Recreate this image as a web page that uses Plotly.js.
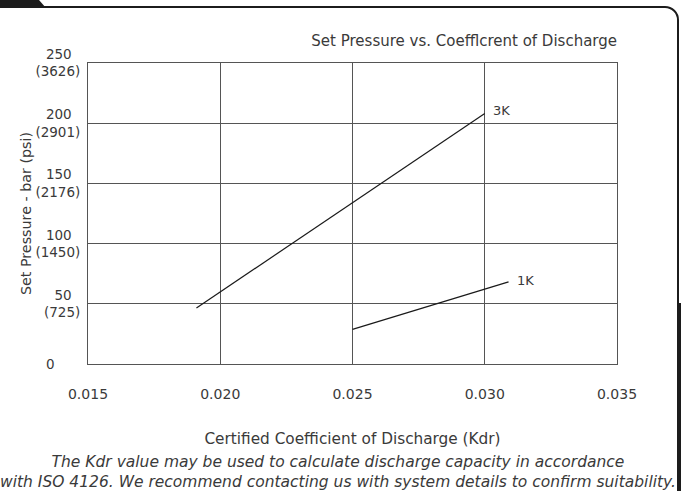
<!DOCTYPE html>
<html>
<head>
<meta charset="utf-8">
<script src="https://cdn.plot.ly/plotly-3.0.1.min.js"></script>
<style>
  html, body { margin: 0; padding: 0; background: #ffffff; overflow: hidden; }
  #frame { position: absolute; left: -20px; top: 6px; width: 699px; height: 520px; box-sizing: border-box;
           border: 2px solid #1c1c1c; border-radius: 14px; }
  #corner { position: absolute; left: 0; top: 0; width: 46px; height: 8px; background: #1c1c1c;
            clip-path: polygon(0 0, 39px 0, 46px 8px, 0 8px); }
  #sidebar { position: absolute; left: 677px; top: 303px; width: 4px; height: 188px; background: #1c1c1c; }
  #chart { position: absolute; left: 0; top: 0; width: 681px; height: 491px; }
</style>
</head>
<body>
<div id="frame"></div>
<div id="corner"></div>
<div id="sidebar"></div>
<div id="chart"></div>
<script>
// Data
const kdr3K = [0.0191, 0.0300];
const pressure3K = [46.5, 208];
const kdr1K = [0.0250, 0.0309];
const pressure1K = [28.8, 68.2];
const seriesNames = ['3K', '1K'];

const yTickVals = [0, 50, 100, 150, 200, 250];
const yTickBar = ['0', '50', '100', '150', '200', '250'];
const yTickPsi = ['', '(725)', '(1450)', '(2176)', '(2901)', '(3626)'];
const xTickVals = [0.015, 0.020, 0.025, 0.030, 0.035];

const chartTitle = 'Set Pressure vs. Coefflcrent of Discharge';
const xTitle = 'Certified Coefficient of Discharge (Kdr)';
const yTitle = 'Set Pressure - bar (psi)';
const noteText = 'The Kdr value may be used to calculate discharge capacity in accordance<br>with ISO 4126. We recommend contacting us with system details to confirm suitability.';

const NB = '\u00a0';
const yTickText = yTickVals.map((v, i) => {
  if (!yTickPsi[i]) return yTickBar[i] + NB.repeat(6);
  return yTickBar[i] + NB + NB + '<br>' + yTickPsi[i];
});

const FONT = 'DejaVu Sans, sans-serif';
const TXT = '#3a3a3a';

const traces = [
  { x: kdr3K, y: pressure3K, name: seriesNames[0], mode: 'lines', line: { color: '#1a1a1a', width: 1.2 }, showlegend: false, hoverinfo: 'skip' },
  { x: kdr1K, y: pressure1K, name: seriesNames[1], mode: 'lines', line: { color: '#1a1a1a', width: 1.2 }, showlegend: false, hoverinfo: 'skip' }
];

const plotTop = 63, plotBottom = 364;
const pxToPaperY = (py) => (plotBottom - py) / (plotBottom - plotTop);

const layout = {
  width: 681, height: 491,
  margin: { l: 88, r: 64, t: plotTop, b: 491 - plotBottom },
  paper_bgcolor: 'rgba(0,0,0,0)',
  plot_bgcolor: 'rgba(0,0,0,0)',
  font: { family: FONT, color: TXT, size: 13 },
  title: {
    text: chartTitle, font: { family: FONT, size: 15, color: TXT },
    x: 1, xref: 'paper', xanchor: 'right', y: 1 - 41 / 491, yref: 'container', yanchor: 'middle'
  },
  xaxis: {
    range: [0.015, 0.035], tickvals: xTickVals, tickformat: '.3f',
    showgrid: true, gridcolor: '#555', gridwidth: 1,
    showline: true, linecolor: '#555', linewidth: 1, mirror: true,
    zeroline: false, ticks: '', ticklabelstandoff: 17,
    tickfont: { family: FONT, size: 14, color: TXT },
    title: { text: xTitle, font: { family: FONT, size: 15.3, color: TXT }, standoff: 32 }
  },
  yaxis: {
    range: [0, 250], tickvals: yTickVals, ticktext: yTickText,
    showgrid: true, gridcolor: '#555', gridwidth: 1,
    showline: true, linecolor: '#555', linewidth: 1, mirror: true,
    zeroline: false, ticks: '', ticklabelstandoff: 4,
    tickfont: { family: FONT, size: 13.5, color: TXT },
    title: { text: yTitle, font: { family: FONT, size: 14.3, color: TXT }, standoff: 0 }
  },
  annotations: [
    { x: kdr3K[kdr3K.length - 1], y: pressure3K[pressure3K.length - 1], xref: 'x', yref: 'y', text: seriesNames[0],
      showarrow: false, xanchor: 'left', yanchor: 'middle', xshift: 6, yshift: 3, font: { family: FONT, size: 13, color: TXT } },
    { x: kdr1K[kdr1K.length - 1], y: pressure1K[pressure1K.length - 1], xref: 'x', yref: 'y', text: seriesNames[1],
      showarrow: false, xanchor: 'left', yanchor: 'middle', xshift: 6, yshift: 1, font: { family: FONT, size: 13, color: TXT } },
    { x: (338 - 88) / 529, y: pxToPaperY(472), xref: 'paper', yref: 'paper', text: '<i>' + noteText + '</i>',
      showarrow: false, xanchor: 'center', yanchor: 'middle', align: 'center',
      font: { family: FONT, size: 15.5, color: TXT } }
  ]
};

Plotly.newPlot('chart', traces, layout, { displayModeBar: false, staticPlot: true });
</script>
</body>
</html>
